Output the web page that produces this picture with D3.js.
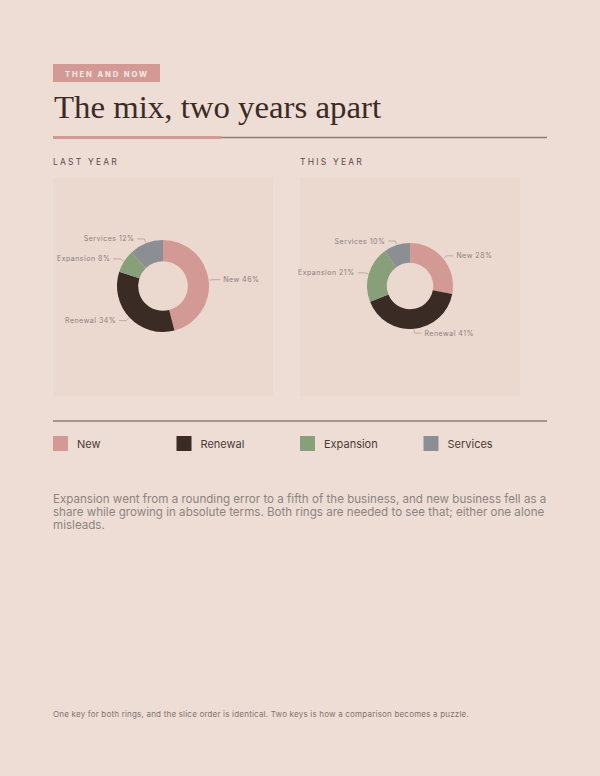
<!DOCTYPE html>
<html><head><meta charset="utf-8">
<script src="https://cdn.jsdelivr.net/npm/d3@7"></script>
<style>
html,body{margin:0;padding:0;background:#eeddd5;}
svg{display:block;}
</style></head>
<body>
<script>
const categories = ["New", "Renewal", "Expansion", "Services"];
const lastYear = [46, 34, 8, 12];
const thisYear = [28, 41, 21, 10];
const panelTitles = ["LAST YEAR", "THIS YEAR"];
const colors = ["#d39a95", "#3b2b25", "#87a07a", "#8b8f94"];
const noteLines = [
  "Expansion went from a rounding error to a fifth of the business, and new business fell as a",
  "share while growing in absolute terms. Both rings are needed to see that; either one alone",
  "misleads."
];
const footnote = "One key for both rings, and the slice order is identical. Two keys is how a comparison becomes a puzzle.";

const W = 600, H = 776;
const svg = d3.select("body").append("svg").attr("width", W).attr("height", H);
svg.append("rect").attr("width", W).attr("height", H).attr("fill", "#eeddd5");

const sans = "'Inter', 'Noto Sans', sans-serif";

// kicker tag
svg.append("rect").attr("x", 53).attr("y", 64).attr("width", 107).attr("height", 18).attr("fill", "#d39a95");
svg.append("text").attr("x", 65).attr("y", 76.5).text("THEN AND NOW")
  .attr("font-family", sans).attr("font-size", 7.6).attr("font-weight", 700)
  .attr("letter-spacing", 1.9).attr("fill", "#f8ece7");

// title
svg.append("text").attr("x", 54).attr("y", 118).text("The mix, two years apart")
  .attr("font-family", "'Liberation Serif', 'DejaVu Serif', serif").attr("font-size", 31)
  .attr("textLength", 327).attr("lengthAdjust", "spacingAndGlyphs")
  .attr("fill", "#3b2b25");

// rules
svg.append("line").attr("x1", 220).attr("x2", 547).attr("y1", 137.5).attr("y2", 137.5)
  .attr("stroke", "#8c7d76").attr("stroke-width", 1.5);
svg.append("line").attr("x1", 53).attr("x2", 221).attr("y1", 137.5).attr("y2", 137.5)
  .attr("stroke", "#d39a95").attr("stroke-width", 3);

const panels = [
  {x: 53, values: lastYear, r: 46, title: panelTitles[0]},
  {x: 300, values: thisYear, r: 43, title: panelTitles[1]}
];
const pw = 220, ph = 219, py = 177;

const pie = d3.pie().sort(null).value(d => d.v);

panels.forEach(p => {
  svg.append("text").attr("x", p.x).attr("y", 165).text(p.title)
    .attr("font-family", sans).attr("font-size", 8.5).attr("letter-spacing", 2.2)
    .attr("fill", "#5c4c46");
  svg.append("rect").attr("x", p.x).attr("y", py).attr("width", pw).attr("height", ph)
    .attr("fill", "#ead7cd").attr("opacity", 0.8);
  const cx = p.x + pw / 2, cy = py + ph / 2 - 0.5;
  const g = svg.append("g").attr("transform", `translate(${cx},${cy})`);
  const data = categories.map((c, i) => ({c, v: p.values[i], col: colors[i]}));
  const arcs = pie(data);
  const arc = d3.arc().innerRadius(p.r * 0.54).outerRadius(p.r);
  g.selectAll("path.slice").data(arcs).join("path").attr("class", "slice")
    .attr("d", arc).attr("fill", d => d.data.col);

  const lab = g.selectAll("g.lab").data(arcs).join("g").attr("class", "lab");
  lab.each(function(d) {
    const a = (d.startAngle + d.endAngle) / 2;
    const sx = Math.sin(a), sy = -Math.cos(a);
    const r0 = p.r + 1, r1 = p.r * 1.1;
    const right = sx >= 0;
    const p0 = [sx * r0, sy * r0], p1 = [sx * r1, sy * r1];
    const p2 = [p1[0] + (right ? 7 : -7), p1[1]];
    d3.select(this).append("polyline")
      .attr("points", [p0, p1, p2].map(q => q.join(",")).join(" "))
      .attr("fill", "none").attr("stroke", "#a89a93").attr("stroke-width", 0.7);
    d3.select(this).append("text")
      .attr("x", p2[0] + (right ? 3 : -3)).attr("y", p2[1] + 2.5)
      .attr("text-anchor", right ? "start" : "end")
      .text(`${d.data.c} ${d.data.v}%`)
      .attr("font-family", sans).attr("font-size", 7).attr("letter-spacing", 0.5)
      .attr("fill", "#8a807c");
  });
});

// divider
svg.append("line").attr("x1", 53).attr("x2", 547).attr("y1", 421).attr("y2", 421)
  .attr("stroke", "#8c7d76").attr("stroke-width", 1.5);

// legend
const lx = d3.scaleBand().domain(categories).range([53, 547]);
const leg = svg.selectAll("g.leg").data(categories).join("g").attr("class", "leg")
  .attr("transform", d => `translate(${lx(d)},436)`);
leg.append("rect").attr("width", 15).attr("height", 15).attr("fill", (d, i) => colors[i]);
leg.append("text").attr("x", 24).attr("y", 11.5).text(d => d)
  .attr("font-family", sans).attr("font-size", 11).attr("fill", "#4a3b35");

// note
svg.selectAll("text.note").data(noteLines).join("text").attr("class", "note")
  .attr("x", 53).attr("y", (d, i) => 503 + i * 13.2).text(d => d)
  .attr("font-family", sans).attr("font-size", 11.6).attr("fill", "#8d8480");

svg.append("text").attr("x", 53).attr("y", 717).text(footnote)
  .attr("font-family", sans).attr("font-size", 8).attr("letter-spacing", 0.25)
  .attr("textLength", 416).attr("lengthAdjust", "spacing")
  .attr("fill", "#7f736e");
</script>
</body></html>
